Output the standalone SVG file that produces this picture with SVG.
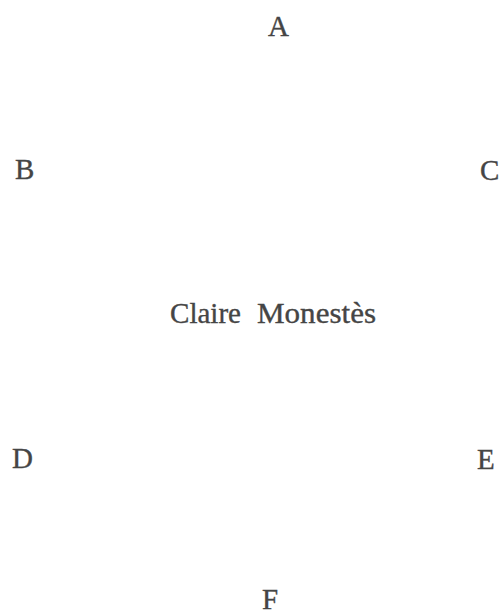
<svg xmlns="http://www.w3.org/2000/svg" width="502" height="614" viewBox="0 0 502 614">
<style>
.t{font-family:"Liberation Serif","Times New Roman",serif;font-size:29px;fill:#454545;stroke:#454545;stroke-width:0.35}
</style>
<rect width="502" height="614" fill="#ffffff"/>
<g id="nodeA"><text class="t" x="268" y="36">A</text></g>
<g id="nodeB"><text class="t" x="15" y="179">B</text></g>
<g id="nodeC"><text class="t" x="480" y="180">C</text></g>
<g id="nodeCenter"><text class="t" y="323"><tspan x="170" textLength="71" lengthAdjust="spacingAndGlyphs">Claire</tspan><tspan x="257" textLength="119" lengthAdjust="spacingAndGlyphs">Monestès</tspan></text></g>
<g id="nodeD"><text class="t" x="12" y="468">D</text></g>
<g id="nodeE"><text class="t" x="477" y="469">E</text></g>
<g id="nodeF"><text class="t" x="262" y="609">F</text></g>
<g id="connectors"></g>
</svg>
